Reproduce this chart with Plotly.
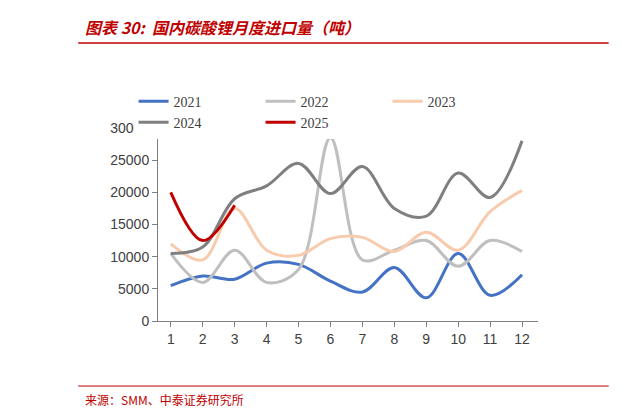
import plotly.graph_objects as go

months = list(range(1, 13))
y2021 = [5500, 7000, 6500, 9000, 8800, 6200, 4500, 8300, 3600, 10500, 4000, 7200]
y2022 = [10500, 6000, 11000, 6000, 8000, 28500, 9500, 11000, 12500, 8500, 12500, 10800]
y2023 = [12000, 9500, 17500, 11000, 10200, 12800, 13000, 10800, 13800, 11000, 17000, 20300]
y2024 = [10500, 11500, 19000, 21000, 24500, 19800, 24000, 17500, 16300, 23000, 19200, 28000]
y2025 = [20000, 12500, 18000]

series = [
    ("2021", y2021, "#4472C4"),
    ("2022", y2022, "#BFBFBF"),
    ("2023", y2023, "#F8CBAD"),
    ("2024", y2024, "#7F7F7F"),
    ("2025", y2025, "#C00000"),
]

fig = go.Figure()
for name, ys, color in series:
    fig.add_trace(go.Scatter(
        x=months[:len(ys)], y=ys, name=name, mode="lines",
        line=dict(color=color, width=3, shape="spline", smoothing=1.0),
    ))

fig.update_layout(
    width=621, height=410,
    margin=dict(l=150, r=91, t=120, b=97),
    paper_bgcolor="white", plot_bgcolor="white",
    font=dict(family="Liberation Sans, Arial", size=14, color="#404040"),
    legend=dict(orientation="h", x=0.437, y=1.22, xanchor="center", yanchor="top",
                font=dict(family="Liberation Serif", size=14, color="#404040"),
                entrywidth=82, entrywidthmode="pixels", tracegroupgap=0),
    xaxis=dict(tickmode="array", tickvals=months, range=[0.6, 12.5],
               showline=True, linecolor="#808080", ticks="outside",
               tickcolor="#808080", showgrid=False, zeroline=False),
    yaxis=dict(range=[0, 30000], dtick=5000, showline=True, linecolor="#808080",
               ticks="outside", tickcolor="#808080", showgrid=False,
               zeroline=False, tickformat="d"),
    showlegend=True,
)

fig.add_annotation(xref="paper", yref="paper", x=-0.197, y=1.45, xanchor="left",
                   yanchor="bottom", showarrow=False,
                   text="<b><i>图表 30:  国内碳酸锂月度进口量（吨）</i></b>",
                   font=dict(family="Noto Sans CJK SC", size=16, color="#C00000"))
fig.add_shape(type="line", xref="paper", yref="paper", x0=-0.21, x1=1.186,
              y0=1.44, y1=1.44, line=dict(color="#C00000", width=1.5))
fig.add_shape(type="line", xref="paper", yref="paper", x0=-0.21, x1=1.186,
              y0=-0.337, y1=-0.337, line=dict(color="#C00000", width=1))
fig.add_annotation(xref="paper", yref="paper", x=-0.197, y=-0.35, xanchor="left",
                   yanchor="top", showarrow=False,
                   text="来源：SMM、中泰证券研究所",
                   font=dict(family="Noto Sans CJK SC", size=12, color="#C00000"))

fig.write_html("out.html")
